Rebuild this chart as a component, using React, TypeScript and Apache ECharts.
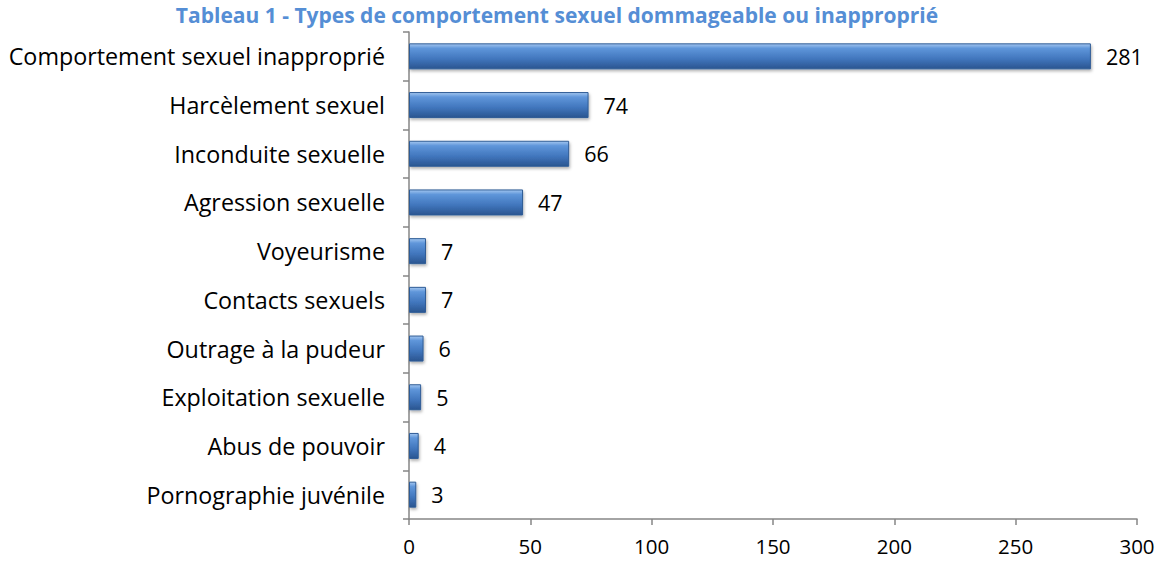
import React, { useEffect, useRef } from "react";
import * as echarts from "echarts";

const categories = [
  "Comportement sexuel inapproprié",
  "Harcèlement sexuel",
  "Inconduite sexuelle",
  "Agression sexuelle",
  "Voyeurisme",
  "Contacts sexuels",
  "Outrage à la pudeur",
  "Exploitation sexuelle",
  "Abus de pouvoir",
  "Pornographie juvénile",
];
const values = [281, 74, 66, 47, 7, 7, 6, 5, 4, 3];
const titleText = "Tableau 1 - Types de comportement sexuel dommageable ou inapproprié";

const FONT = "Open Sans";

export default function App() {
  const ref = useRef<HTMLDivElement>(null);
  useEffect(() => {
    if (!ref.current) return;
    const chart = echarts.init(ref.current, undefined, { renderer: "svg" });
    chart.setOption({
      animation: false,
      title: {
        text: titleText,
        left: 552,
        textAlign: "center",
        top: -3,
        textStyle: { fontFamily: FONT, fontSize: 21, fontWeight: "bold", color: "#558ED5", lineHeight: 26 },
      },
      grid: { left: 409, right: 22, top: 32, bottom: 44, containLabel: false },
      xAxis: {
        type: "value",
        min: 0,
        max: 300,
        interval: 50,
        axisLine: { show: true, lineStyle: { color: "#868686", width: 1.5 } },
        axisTick: { show: true, length: 6, lineStyle: { color: "#868686", width: 1.5 } },
        splitLine: { show: false },
        axisLabel: { fontFamily: FONT, fontSize: 20.5, color: "#000", margin: 16 },
      },
      yAxis: {
        type: "category",
        data: categories,
        inverse: true,
        axisLine: { show: true, lineStyle: { color: "#868686", width: 1.5 } },
        axisTick: { show: true, length: 6, alignWithLabel: false, lineStyle: { color: "#868686", width: 1.5 } },
        axisLabel: { fontFamily: FONT, fontSize: 23.3, color: "#000", margin: 24 },
      },
      series: [
        {
          type: "bar",
          data: values,
          barWidth: 26,
          itemStyle: {
            color: new echarts.graphic.LinearGradient(0, 0, 0, 1, [
              { offset: 0, color: "#A3C6F0" },
              { offset: 0.18, color: "#5F96DA" },
              { offset: 0.6, color: "#4176BD" },
              { offset: 1, color: "#2A5590" },
            ]),
            borderColor: "#2F5C96",
            borderWidth: 1,
            shadowColor: "rgba(0,0,0,0.3)",
            shadowBlur: 3,
            shadowOffsetX: 1,
            shadowOffsetY: 2,
          },
          label: {
            show: true,
            position: "right",
            distance: 15,
            fontFamily: FONT,
            fontSize: 21.5,
            color: "#000",
          },
        },
      ],
    });
    return () => chart.dispose();
  }, []);
  return <div ref={ref} style={{ width: 1159, height: 563, position: "absolute", left: 0, top: 0 }} />;
}
